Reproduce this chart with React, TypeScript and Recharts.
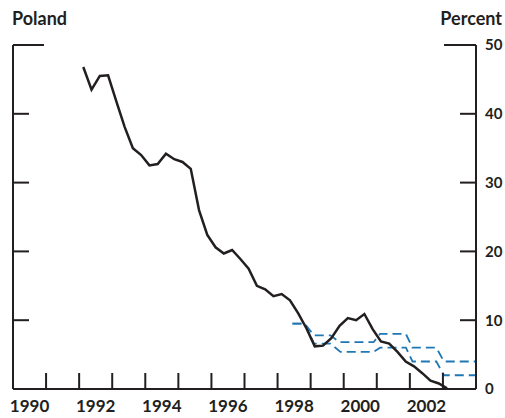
import { Line, LineChart, XAxis, YAxis } from 'recharts';

const INK = '#231f20';
const TARGET = '#1f77b4';
const FONT = 'Lato, "Open Sans", sans-serif';

// 12-month CPI inflation, quarterly (mid-quarter), percent
const cpiTime = [
  1992.125, 1992.375, 1992.625, 1992.875,
  1993.125, 1993.375, 1993.625, 1993.875,
  1994.125, 1994.375, 1994.625, 1994.875,
  1995.125, 1995.375, 1995.625, 1995.875,
  1996.125, 1996.375, 1996.625, 1996.875,
  1997.125, 1997.375, 1997.625, 1997.875,
  1998.125, 1998.375, 1998.625, 1998.875,
  1999.125, 1999.375, 1999.625, 1999.875,
  2000.125, 2000.375, 2000.625, 2000.875,
  2001.125, 2001.375, 2001.625, 2001.875,
  2002.125, 2002.375, 2002.625, 2002.875,
  2003.125,
];
const cpiValue = [
  46.8, 43.5, 45.5, 45.6,
  41.8, 38.1, 35.0, 34.0,
  32.5, 32.7, 34.2, 33.4,
  33.0, 32.0, 26.0, 22.4,
  20.6, 19.7, 20.2, 18.9,
  17.5, 15.0, 14.5, 13.5,
  13.8, 12.9, 11.0, 8.8,
  6.2, 6.3, 7.4, 9.2,
  10.3, 10.0, 10.9, 8.7,
  6.9, 6.6, 5.4, 4.0,
  3.3, 2.3, 1.2, 0.8,
  0.1,
];

// inflation target band, upper and lower bound
const upperTime = [1998.45, 1998.82, 1999.1, 1999.6, 1999.87, 2000.9, 2001.1, 2001.88, 2002.08, 2002.8, 2003.03, 2004];
const upperValue = [9.5, 9.5, 7.8, 7.8, 6.8, 6.8, 8.0, 8.0, 6.0, 6.0, 4.0, 4.0];
const lowerTime = [1998.45, 1998.82, 1999.1, 1999.6, 1999.9, 2000.9, 2001.1, 2001.88, 2002.08, 2002.8, 2003.03, 2004];
const lowerValue = [9.5, 9.5, 6.6, 6.6, 5.4, 5.4, 6.0, 6.0, 4.0, 4.0, 2.0, 2.0];

const yearMarks = [1991, 1992, 1993, 1994, 1995, 1996, 1997, 1998, 1999, 2000, 2001, 2002, 2003];
const yearLabels = [1990, 1992, 1994, 1996, 1998, 2000, 2002];
const percentTicks = [0, 10, 20, 30, 40, 50];

const cpi = cpiTime.map((t, i) => ({ t, v: cpiValue[i] }));
const upper = upperTime.map((t, i) => ({ t, v: upperValue[i] }));
const lower = lowerTime.map((t, i) => ({ t, v: lowerValue[i] }));
// labels sit in the middle of the year, marks on the year boundary
const xTicks = [...yearMarks, ...yearLabels.map((y) => y + 0.5)].sort((a, b) => a - b);

function XTick({ x, y, payload }: any) {
  const v = payload.value;
  if (Number.isInteger(v)) {
    return <line x1={x} x2={x} y1={y} y2={y - 16} stroke={INK} strokeWidth={2} />;
  }
  return (
    <text x={x} y={y + 23} textAnchor="middle" fill={INK} fontFamily={FONT} fontWeight={700} fontSize={17}>
      {Math.floor(v)}
    </text>
  );
}

function LeftTick({ x, y, payload }: any) {
  const len = payload.value === 50 ? 31 : 16;
  return <line x1={x} x2={x + len} y1={y} y2={y} stroke={INK} strokeWidth={2} />;
}

function RightTick({ x, y, payload }: any) {
  const len = payload.value === 50 ? 32 : 16;
  return (
    <g>
      <line x1={x - len} x2={x} y1={y} y2={y} stroke={INK} strokeWidth={2} />
      <text x={x + 9} y={y} dy="0.36em" fill={INK} fontFamily={FONT} fontWeight={700} fontSize={15}>
        {payload.value}
      </text>
    </g>
  );
}

const axisLine = { stroke: INK, strokeWidth: 2 };

export default function App() {
  return (
    <div style={{ position: 'absolute', left: 0, top: 0, width: 505, height: 418, background: '#fff' }}>
      <div style={{ position: 'absolute', left: 12, top: 9, fontFamily: FONT, fontWeight: 700, fontSize: 18, lineHeight: 1, color: INK }}>
        Poland
      </div>
      <div style={{ position: 'absolute', right: 3, top: 9, fontFamily: FONT, fontWeight: 700, fontSize: 18, lineHeight: 1, color: INK }}>
        Percent
      </div>
      <LineChart width={505} height={418} margin={{ top: 45, right: 28, bottom: 28, left: 12 }}>
        <XAxis
          dataKey="t"
          type="number"
          domain={[1990, 2004]}
          ticks={xTicks}
          interval={0}
          allowDataOverflow
          height={1}
          tickSize={0}
          tickMargin={0}
          tickLine={false}
          axisLine={axisLine}
          tick={<XTick />}
        />
        <YAxis
          yAxisId="left"
          orientation="left"
          domain={[0, 50]}
          ticks={percentTicks}
          interval={0}
          width={1}
          tickSize={0}
          tickMargin={0}
          tickLine={false}
          axisLine={axisLine}
          tick={<LeftTick />}
        />
        <YAxis
          yAxisId="right"
          orientation="right"
          domain={[0, 50]}
          ticks={percentTicks}
          interval={0}
          width={1}
          tickSize={0}
          tickMargin={0}
          tickLine={false}
          axisLine={axisLine}
          tick={<RightTick />}
        />
        <Line yAxisId="left" data={upper} dataKey="v" type="linear" stroke={TARGET} strokeWidth={1.8} strokeDasharray="9 5" dot={false} isAnimationActive={false} />
        <Line yAxisId="right" data={lower} dataKey="v" type="linear" stroke={TARGET} strokeWidth={1.8} strokeDasharray="9 5" dot={false} isAnimationActive={false} />
        <Line yAxisId="left" data={cpi} dataKey="v" type="linear" stroke={INK} strokeWidth={2.5} dot={false} isAnimationActive={false} />
      </LineChart>
    </div>
  );
}
